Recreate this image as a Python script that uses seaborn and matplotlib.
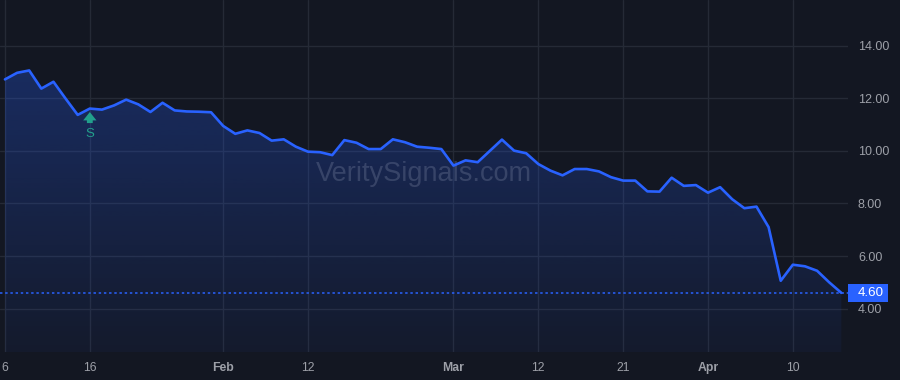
import numpy as np
import pandas as pd
import matplotlib
matplotlib.use("Agg")
import matplotlib.pyplot as plt
import matplotlib.transforms as mtransforms
from matplotlib.colors import LinearSegmentedColormap
from matplotlib.patches import PathPatch, Rectangle
import seaborn as sns

# ---------------- data ----------------
dates = pd.bdate_range("2025-01-06", "2025-04-16")
holidays = pd.to_datetime(["2025-01-09", "2025-01-20", "2025-02-17"])
dates = [d for d in dates if d not in holidays]

prices = [12.72, 12.97, 13.06, 12.37, 12.63, 11.99, 11.37, 11.61, 11.57, 11.73,
          11.95, 11.77, 11.48, 11.83, 11.54, 11.50, 11.49, 11.47, 10.95, 10.65,
          10.78, 10.68, 10.39, 10.44, 10.16, 9.97, 9.95, 9.84, 10.41, 10.31,
          10.07, 10.07, 10.44, 10.33, 10.16, 10.12, 10.07, 9.44, 9.64, 9.57,
          10.00, 10.43, 10.01, 9.91, 9.50, 9.25, 9.07, 9.31, 9.31, 9.22,
          9.00, 8.87, 8.87, 8.46, 8.45, 8.98, 8.67, 8.70, 8.41, 8.62,
          8.16, 7.82, 7.88, 7.10, 5.06, 5.67, 5.61, 5.44, 5.00, 4.60]

x_tick_dates = ["2025-01-06", "2025-01-16", "2025-02-03", "2025-02-12", "2025-03-03",
                "2025-03-12", "2025-03-21", "2025-04-01", "2025-04-10"]
x_tick_labels = ["6", "16", "Feb", "12", "Mar", "12", "21", "Apr", "10"]
month_labels = {"Feb", "Mar", "Apr"}
y_ticks = [4, 6, 8, 10, 12, 14]

signal_dates = ["2025-01-16"]
signal_labels = ["S"]

last_price = prices[-1]
watermark = "VeritySignals.com"

df = pd.DataFrame({"date": dates, "price": prices})
df["idx"] = np.arange(len(df))
date_to_idx = {d.strftime("%Y-%m-%d"): i for i, d in enumerate(df["date"])}

# ---------------- style ----------------
BG = "#131722"
GRID = "#252a36"
TXT = "#9da0a8"
BLUE = "#2962ff"
TEAL = "#22a08c"

sns.set_theme(style="dark", rc={
    "axes.facecolor": BG,
    "figure.facecolor": BG,
    "savefig.facecolor": BG,
})
plt.rcParams["font.family"] = ["Liberation Sans", "DejaVu Sans"]

fig = plt.figure(figsize=(9, 3.8), dpi=100)
ax = fig.add_axes([0, 28 / 380, 848 / 900, 352 / 380])
ax.set_facecolor(BG)

ylim = (2.35, 15.74)
xlim = (-0.41, 69.55)

# gradient area fill
poly = ax.fill_between(df["idx"], df["price"], ylim[0], color="none", lw=0)
path = poly.get_paths()[0]
clip = PathPatch(path, transform=ax.transData, facecolor="none", edgecolor="none")
ax.add_patch(clip)
cmap = LinearSegmentedColormap.from_list(
    "area", [(41 / 255, 98 / 255, 1.0, 0.05), (41 / 255, 98 / 255, 1.0, 0.28)])
grad = np.linspace(0, 1, 256).reshape(-1, 1)
im = ax.imshow(grad, extent=[df["idx"].min(), df["idx"].max(), ylim[0], max(prices)],
               origin="lower", aspect="auto", cmap=cmap, zorder=1)
im.set_clip_path(clip)

# watermark
ax.text(0.5, 0.505, watermark, transform=ax.transAxes, ha="center", va="center",
        fontsize=19.5, color="#aab3cc", alpha=0.22, zorder=2)

# price line
sns.lineplot(data=df, x="idx", y="price", ax=ax, color=BLUE, linewidth=1.9,
             zorder=4, legend=False)

# last price dotted line + label
ax.axhline(last_price, color=BLUE, lw=1.1, ls=(0, (1.6, 1.8)), zorder=3)
bt = mtransforms.blended_transform_factory(ax.transAxes, ax.transData)
ax.add_patch(Rectangle((1.0, last_price - 0.33), 40 / 848, 0.66, transform=bt,
                       facecolor=BLUE, edgecolor="none", clip_on=False, zorder=6))
ax.text(1.0 + 10 / 848, last_price, f"{last_price:.2f}", transform=bt,
        ha="left", va="center", color="white", fontsize=9.6, zorder=7, clip_on=False)

# signal markers
for sd, sl in zip(signal_dates, signal_labels):
    i = date_to_idx[sd]
    v = prices[i]
    t_top = mtransforms.offset_copy(ax.transData, fig=fig, x=0, y=-3.5, units="dots")
    t_bot = mtransforms.offset_copy(ax.transData, fig=fig, x=0, y=-14.5, units="dots")
    ax.annotate("", xy=(i, v), xycoords=t_top, xytext=(i, v), textcoords=t_bot,
                arrowprops=dict(arrowstyle="simple,head_length=0.5,head_width=0.8,tail_width=0.35",
                                color=TEAL, lw=0, shrinkA=0, shrinkB=0), zorder=5)
    t_txt = mtransforms.offset_copy(ax.transData, fig=fig, x=0, y=-25, units="dots")
    ax.text(i, v, sl, transform=t_txt, ha="center", va="center", color=TEAL,
            fontsize=9.5, zorder=5)

# axes
ax.set_xlim(*xlim)
ax.set_ylim(*ylim)
ax.set_xticks([date_to_idx[d] for d in x_tick_dates])
ax.set_xticklabels(x_tick_labels)
for lbl in ax.get_xticklabels():
    if lbl.get_text() in month_labels:
        lbl.set_fontweight("bold")
ax.set_yticks(y_ticks)
ax.set_yticklabels([f"{t:.2f}" for t in y_ticks])
ax.yaxis.tick_right()
ax.tick_params(axis="y", which="both", length=0, pad=7.2, labelsize=9, colors=TXT)
ax.tick_params(axis="x", which="both", length=0, pad=7.5, labelsize=8.8, colors=TXT)
ax.grid(True, color=GRID, lw=1, zorder=0)
ax.set_axisbelow(True)
ax.set_xlabel("")
ax.set_ylabel("")
for s in ax.spines.values():
    s.set_visible(False)

fig.savefig("out.png", dpi=100, facecolor=BG)
